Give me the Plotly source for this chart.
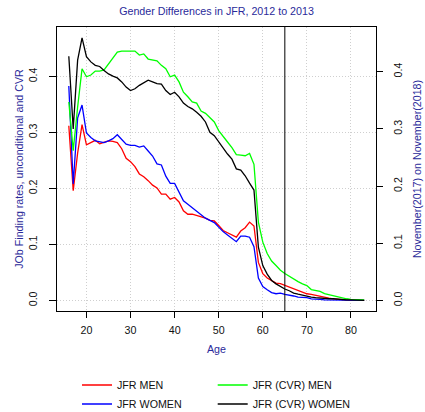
import plotly.graph_objects as go

# Age grid (years)
ages = list(range(16, 84))

# Unconditional job finding rates (left axis)
jfr_men = [0.312, 0.196, 0.263, 0.314, 0.278, 0.282, 0.286, 0.280, 0.283, 0.285,
           0.284, 0.282, 0.271, 0.254, 0.248, 0.239, 0.226, 0.221, 0.214, 0.206,
           0.201, 0.190, 0.190, 0.181, 0.184, 0.176, 0.160, 0.154, 0.154, 0.152,
           0.149, 0.147, 0.143, 0.142, 0.134, 0.125, 0.121, 0.117, 0.113, 0.124,
           0.130, 0.140, 0.133, 0.068, 0.048, 0.040, 0.035, 0.031, 0.030, 0.027,
           0.023, 0.020, 0.018, 0.015, 0.012, 0.011, 0.009, 0.007, 0.006, 0.004,
           0.003, 0.002, 0.001, 0.001, 0.000, 0.000, 0.000, 0.000]
jfr_women = [0.383, 0.208, 0.326, 0.349, 0.299, 0.291, 0.285, 0.283, 0.282, 0.285,
             0.289, 0.296, 0.287, 0.279, 0.277, 0.277, 0.274, 0.276, 0.267, 0.258,
             0.244, 0.242, 0.222, 0.209, 0.209, 0.194, 0.178, 0.172, 0.166, 0.160,
             0.153, 0.147, 0.143, 0.139, 0.131, 0.123, 0.117, 0.111, 0.105, 0.115,
             0.115, 0.113, 0.096, 0.040, 0.025, 0.019, 0.014, 0.012, 0.013, 0.011,
             0.010, 0.008, 0.006, 0.006, 0.005, 0.003, 0.003, 0.002, 0.001, 0.001,
             0.001, 0.001, 0.000, 0.000, 0.000, 0.000, 0.000, 0.000]

# CVR job finding rates, November(2017) on November(2018) (right axis)
cvr_men = [0.347, 0.262, 0.338, 0.405, 0.391, 0.394, 0.401, 0.401, 0.403, 0.414,
           0.424, 0.434, 0.436, 0.436, 0.435, 0.436, 0.429, 0.431, 0.422, 0.420,
           0.419, 0.411, 0.405, 0.391, 0.394, 0.382, 0.364, 0.356, 0.347, 0.345,
           0.331, 0.327, 0.319, 0.312, 0.297, 0.288, 0.277, 0.267, 0.255, 0.254,
           0.253, 0.257, 0.238, 0.137, 0.102, 0.082, 0.069, 0.061, 0.053, 0.047,
           0.042, 0.038, 0.033, 0.029, 0.026, 0.019, 0.018, 0.016, 0.012, 0.010,
           0.008, 0.006, 0.005, 0.003, 0.002, 0.002, 0.001, 0.001]
cvr_women = [0.427, 0.300, 0.420, 0.459, 0.426, 0.417, 0.411, 0.409, 0.402, 0.396,
             0.392, 0.389, 0.382, 0.373, 0.367, 0.370, 0.376, 0.380, 0.385, 0.382,
             0.379, 0.378, 0.367, 0.360, 0.364, 0.356, 0.345, 0.339, 0.335, 0.329,
             0.322, 0.312, 0.294, 0.288, 0.277, 0.265, 0.256, 0.247, 0.230, 0.228,
             0.218, 0.205, 0.193, 0.093, 0.061, 0.046, 0.035, 0.029, 0.024, 0.020,
             0.017, 0.013, 0.011, 0.009, 0.007, 0.006, 0.005, 0.004, 0.004, 0.003,
             0.003, 0.002, 0.002, 0.001, 0.001, 0.001, 0.000, 0.000]

x_ticks = [20, 30, 40, 50, 60, 70, 80]
y_ticks = [0.0, 0.1, 0.2, 0.3, 0.4]
y_tick_labels = ["0.0", "0.1", "0.2", "0.3", "0.4"]
retirement_age = 65

FONT = "Liberation Sans, Arial, sans-serif"
FS = 10.7
BLUE_TXT = "#2a2a9a"
LW = 1.3
GRID = dict(showgrid=True, gridcolor="#cfcfcf", griddash="1px,2px", gridwidth=1)

fig = go.Figure()
fig.add_trace(go.Scatter(x=ages, y=jfr_men, mode="lines", name="JFR MEN",
                         line=dict(color="#ff0000", width=LW), legend="legend"))
fig.add_trace(go.Scatter(x=ages, y=jfr_women, mode="lines", name="JFR WOMEN",
                         line=dict(color="#0000ff", width=LW), legend="legend"))
fig.add_trace(go.Scatter(x=ages, y=cvr_men, mode="lines", name="JFR (CVR) MEN",
                         line=dict(color="#00ff00", width=LW), yaxis="y2",
                         legend="legend2"))
fig.add_trace(go.Scatter(x=ages, y=cvr_women, mode="lines", name="JFR (CVR) WOMEN",
                         line=dict(color="#000000", width=LW), yaxis="y2",
                         legend="legend2"))

fig.add_vline(x=retirement_age, line=dict(color="black", width=1))

legend_common = dict(orientation="v", xanchor="left", yanchor="top",
                     bgcolor="rgba(0,0,0,0)", borderwidth=0,
                     font=dict(family=FONT, size=FS, color="#111111"),
                     tracegroupgap=0)

fig.update_layout(
    width=425, height=412,
    margin=dict(l=57, r=49, t=27, b=101, autoexpand=False),
    paper_bgcolor="white", plot_bgcolor="white",
    font=dict(family=FONT, size=FS, color="#111111"),
    title=dict(text="Gender Differences in JFR, 2012 to 2013",
               x=0.5, xref="paper", y=1 - 11 / 412, yanchor="middle",
               font=dict(family=FONT, size=FS, color=BLUE_TXT)),
    xaxis=dict(range=[13.32, 85.68], tickvals=x_ticks, ticks="outside",
               ticklen=6, tickcolor="black", showline=True, mirror=True,
               linecolor="black", linewidth=1, zeroline=False,
               ticklabelstandoff=3, automargin=False, **GRID,
               title=dict(text="Age", standoff=10,
                          font=dict(family=FONT, size=FS, color=BLUE_TXT))),
    yaxis=dict(range=[-0.0188, 0.4884], tickvals=y_ticks, ticktext=y_tick_labels,
               tickangle=-90, ticks="outside", ticklen=7, tickcolor="black",
               showline=True, mirror=True, linecolor="black", linewidth=1,
               zeroline=False, ticklabelstandoff=8, automargin=False, **GRID,
               title=dict(text="JOb Finding rates, unconditional and CVR",
                          standoff=0,
                          font=dict(family=FONT, size=FS, color=BLUE_TXT))),
    yaxis2=dict(range=[-0.0184, 0.478], tickvals=y_ticks, ticktext=y_tick_labels,
                tickangle=-90, overlaying="y", side="right", ticks="outside",
                ticklen=6, tickcolor="black", showline=False, showgrid=False,
                zeroline=False, ticklabelstandoff=6, automargin=False,
                title=dict(text="November(2017) on November(2018)", standoff=10,
                           font=dict(family=FONT, size=FS, color=BLUE_TXT))),
    legend=dict(x=(77 - 57) / 319, y=(311 - 370.5) / 284, **legend_common),
    legend2=dict(x=(212.7 - 57) / 319, y=(311 - 370.5) / 284, **legend_common),
    showlegend=True,
)

fig.write_html("out.html")
